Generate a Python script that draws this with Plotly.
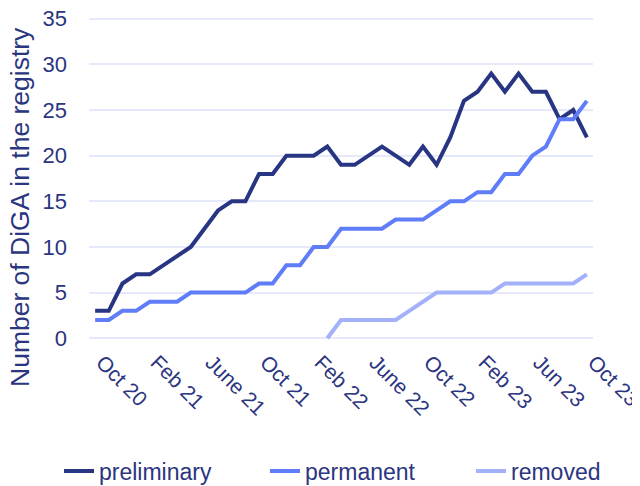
import plotly.graph_objects as go

months = list(range(37))
tick_positions = [0, 4, 8, 12, 16, 20, 24, 28, 32, 36]
tick_labels = ["Oct 20", "Feb 21", "June 21", "Oct 21", "Feb 22", "June 22",
               "Oct 22", "Feb 23", "Jun 23", "Oct 23"]

preliminary = [3, 3, 6, 7, 7, 8, 9, 10, 12, 14, 15, 15, 18, 18, 20, 20, 20, 21, 19, 19,
               20, 21, 20, 19, 21, 19, 22, 26, 27, 29, 27, 29, 27, 27, 24, 25, 22]
permanent = [2, 2, 3, 3, 4, 4, 4, 5, 5, 5, 5, 5, 6, 6, 8, 8, 10, 10, 12, 12,
             12, 12, 13, 13, 13, 14, 15, 15, 16, 16, 18, 18, 20, 21, 24, 24, 26]
removed = [None] * 17 + [0, 2, 2, 2, 2, 2, 3, 4, 5, 5, 5, 5, 5, 6, 6, 6, 6, 6, 6, 7]

text_color = "#2b3580"
font_family = "Liberation Sans, Arial, sans-serif"

fig = go.Figure()
fig.add_trace(go.Scatter(x=months, y=preliminary, mode="lines", name="preliminary",
                         line=dict(color="#283583", width=4), legendwidth=161))
fig.add_trace(go.Scatter(x=months, y=permanent, mode="lines", name="permanent",
                         line=dict(color="#5f7cf9", width=4), legendwidth=161))
fig.add_trace(go.Scatter(x=months, y=removed, mode="lines", name="removed",
                         line=dict(color="#a3b1fa", width=4), legendwidth=100))

# plot area: 81..585 horizontally, 8..333 vertically (figure px)
fig.update_layout(
    width=640, height=486,
    margin=dict(l=81, r=55, t=8, b=153, autoexpand=False),
    paper_bgcolor="white", plot_bgcolor="white",
    font=dict(family=font_family, color=text_color, size=20),
    showlegend=True,
    legend=dict(orientation="h", xref="paper", yref="paper",
                x=(51 - 81) / 504, xanchor="left",
                y=(333 - 463) / 325, yanchor="middle",
                font=dict(size=23, color=text_color)),
    annotations=[dict(text="Number of DiGA in the registry", textangle=-90,
                      xref="paper", yref="paper",
                      x=(12 - 81) / 504, y=(333 - 199) / 325,
                      xanchor="center", yanchor="middle", showarrow=False,
                      font=dict(size=26.5, color=text_color))],
)
fig.update_xaxes(range=[-0.45, 36.45], tickmode="array", tickvals=tick_positions,
                 ticktext=tick_labels, tickangle=45, showgrid=False, zeroline=False,
                 showline=False, ticklabelstandoff=4, ticklabelshift=7,
                 ticklabeloverflow="allow", tickfont=dict(size=21), automargin=False)
fig.update_yaxes(range=[-0.3, 35.3], tickvals=[0, 5, 10, 15, 20, 25, 30, 35],
                 showgrid=True, gridcolor="#e6e9fb", gridwidth=2, zeroline=False,
                 showline=False, ticklabelstandoff=21, ticklabeloverflow="allow",
                 tickfont=dict(size=22), automargin=False)

fig.write_html("out.html")
